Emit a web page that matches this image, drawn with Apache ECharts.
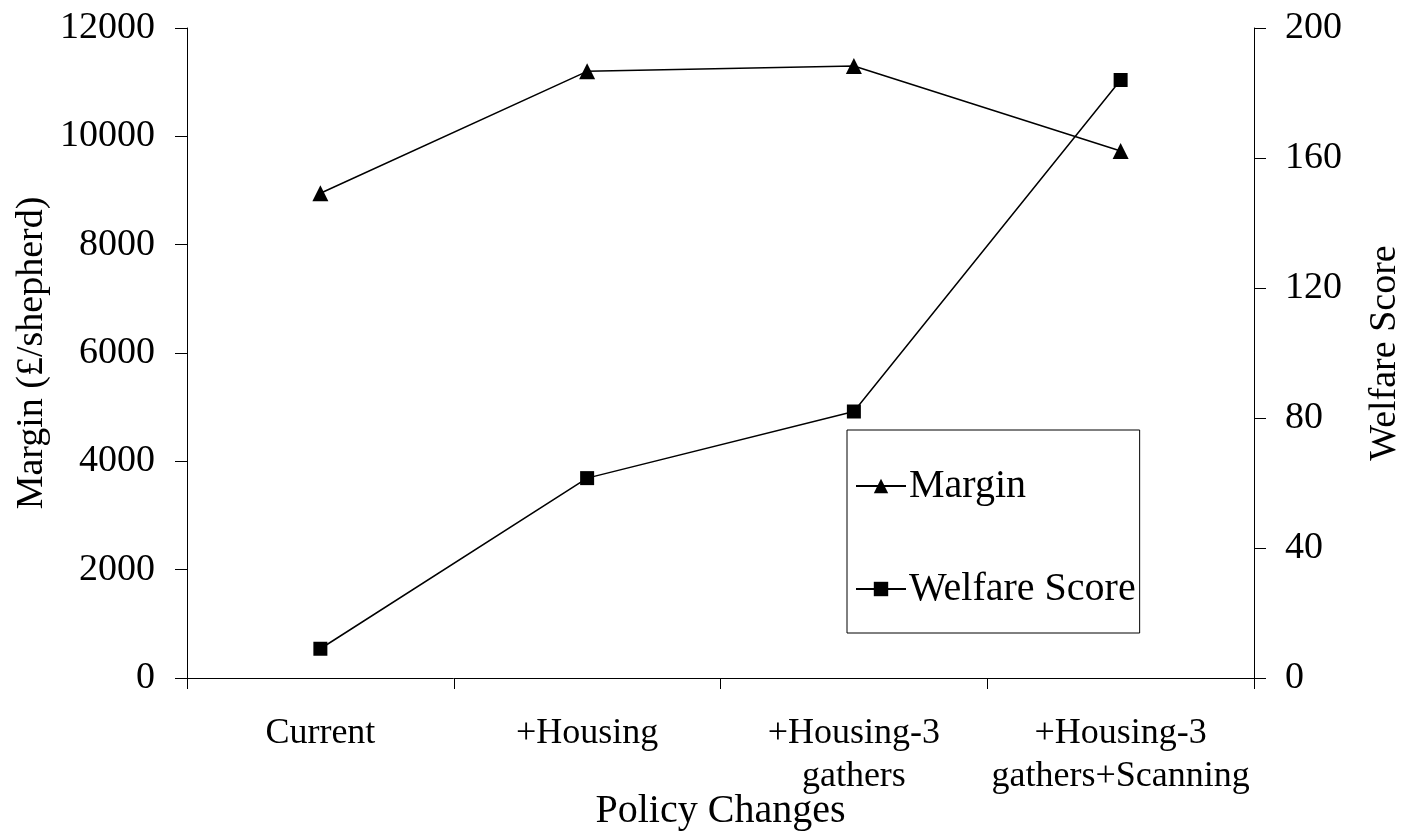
<!DOCTYPE html>
<html>
<head>
<meta charset="utf-8">
<script src="https://cdn.jsdelivr.net/npm/echarts@6/dist/echarts.min.js"></script>
<style>
  html, body { margin: 0; padding: 0; background: #fff; }
  #chart { width: 1414px; height: 832px; }
</style>
</head>
<body>
<div id="chart"></div>
<script>
// data
var policies = ['Current', '+Housing', '+Housing-3\ngathers', '+Housing-3\ngathers+Scanning'];
var margin = [8950, 11200, 11300, 9730];
var welfare = [9, 61.5, 82, 184];
var marginTicks = { min: 0, max: 12000, interval: 2000 };
var welfareTicks = { min: 0, max: 200, interval: 40 };

var serif = "'Liberation Serif', 'Times New Roman', serif";
var chart = echarts.init(document.getElementById('chart'));

var option = {
    backgroundColor: '#fff',
    animation: false,
    textStyle: { fontFamily: serif, color: '#000' },
    grid: { left: 187, right: 160, top: 28, bottom: 154, outerBoundsMode: 'none' },
    legend: {
        orient: 'vertical',
        left: 847,
        top: 430,
        padding: [36, 4, 24, 8],
        itemGap: 63,
        itemWidth: 50,
        itemHeight: 18,
        borderColor: '#000',
        borderWidth: 1,
        textStyle: { fontFamily: serif, fontSize: 40, color: '#000', padding: [0, 0, 0, -2] },
        data: ['Margin', 'Welfare Score']
    },
    xAxis: {
        type: 'category',
        data: policies,
        name: 'Policy Changes',
        nameLocation: 'middle',
        nameGap: 113,
        nameMoveOverlap: false,
        nameTextStyle: { fontFamily: serif, fontSize: 40, color: '#000' },
        axisLine: { lineStyle: { color: '#000', width: 1 } },
        axisTick: { show: true, length: 11, lineStyle: { color: '#000' } },
        axisLabel: {
            fontFamily: serif, fontSize: 36, color: '#000',
            margin: 34, lineHeight: 43, interval: 0
        }
    },
    yAxis: [{
        type: 'value',
        min: marginTicks.min, max: marginTicks.max, interval: marginTicks.interval,
        name: 'Margin (£/shepherd)',
        nameLocation: 'middle',
        nameGap: 136,
        nameMoveOverlap: false,
        nameTextStyle: { fontFamily: serif, fontSize: 38, color: '#000' },
        axisLine: { show: true, lineStyle: { color: '#000', width: 1 } },
        axisTick: { show: true, length: 12, lineStyle: { color: '#000' } },
        axisLabel: {
            fontFamily: serif, fontSize: 38, color: '#000', margin: 32,
            formatter: function (v) { return String(v); }
        },
        splitLine: { show: false }
    }, {
        type: 'value',
        position: 'right',
        min: welfareTicks.min, max: welfareTicks.max, interval: welfareTicks.interval,
        name: 'Welfare Score',
        nameLocation: 'middle',
        nameGap: 112,
        nameMoveOverlap: false,
        nameTextStyle: { fontFamily: serif, fontSize: 38, color: '#000' },
        axisLine: { show: true, lineStyle: { color: '#000', width: 1 } },
        axisTick: { show: true, length: 12, lineStyle: { color: '#000' } },
        axisLabel: {
            fontFamily: serif, fontSize: 38, color: '#000', margin: 31,
            formatter: function (v) { return String(v); }
        },
        splitLine: { show: false }
    }],
    series: [{
        name: 'Margin',
        type: 'line',
        data: margin,
        yAxisIndex: 0,
        symbol: 'triangle',
        symbolSize: 16,
        itemStyle: { color: '#000' },
        lineStyle: { color: '#000', width: 1.5 }
    }, {
        name: 'Welfare Score',
        type: 'line',
        data: welfare,
        yAxisIndex: 1,
        symbol: 'rect',
        symbolSize: 14,
        itemStyle: { color: '#000' },
        lineStyle: { color: '#000', width: 1.5 }
    }]
};

chart.setOption(option);
</script>
</body>
</html>
